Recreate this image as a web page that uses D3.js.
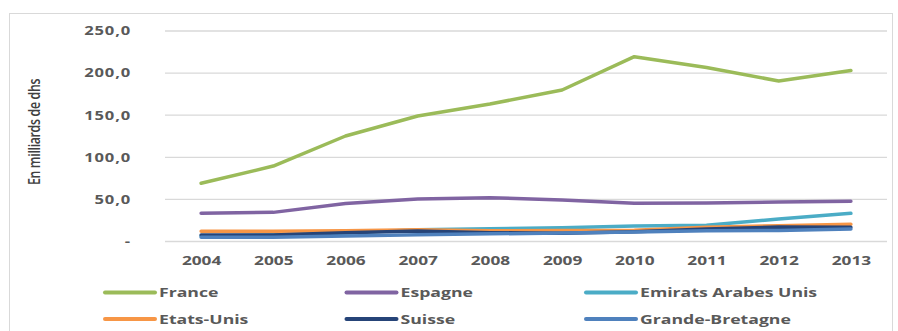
<!DOCTYPE html>
<html>
<head>
<meta charset="utf-8">
<script src="https://cdn.jsdelivr.net/npm/d3@7"></script>
<style>
  html, body { margin: 0; padding: 0; background: #fff; }
  svg { display: block; }
</style>
</head>
<body>
<svg id="chart" width="898" height="331"></svg>
<script>
// Years on the horizontal axis
const years = ["2004", "2005", "2006", "2007", "2008", "2009", "2010", "2011", "2012", "2013"];

// Values in billions of dirhams, one array per country
const france        = [68.5, 89.0, 124.7, 148.5, 162.7, 179.3, 218.9, 206.0, 190.0, 202.5];
const espagne       = [32.9, 34.0, 44.5, 49.9, 51.4, 48.7, 44.8, 45.1, 46.3, 47.1];
const emirats       = [6.0, 7.0, 9.5, 13.4, 14.6, 15.8, 17.8, 18.8, 26.0, 32.9];
const etatsUnis     = [11.5, 11.5, 12.2, 13.4, 12.2, 12.5, 12.8, 16.3, 18.2, 19.8];
const suisse        = [7.1, 7.1, 9.9, 11.9, 9.9, 9.1, 11.0, 14.2, 16.6, 16.3];
const grandeBretagne = [4.4, 4.6, 6.0, 7.5, 8.5, 9.5, 10.7, 12.2, 12.5, 14.3];

// Vertical axis ticks and their labels
const yTicks = [0, 50, 100, 150, 200, 250];
const yTickLabels = ["-", "50,0", "100,0", "150,0", "200,0", "250,0"];

const seriesNames  = ["France", "Espagne", "Emirats Arabes Unis", "Etats-Unis", "Suisse", "Grande-Bretagne"];
const seriesValues = [france, espagne, emirats, etatsUnis, suisse, grandeBretagne];
const seriesColors = ["#9BBB59", "#8064A2", "#4BACC6", "#F79646", "#264478", "#4F81BD"];

const yTitle = "En milliards de dhs";

// ---- layout ----
const plotLeft = 165, plotRight = 887, plotTop = 30.5, plotBottom = 241;
const textColor = "#595959";
const font = "'Open Sans', 'DejaVu Sans', sans-serif";
const sx = 1.38; // wide lettering

const svg = d3.select("#chart");

// outer frame
svg.append("rect")
  .attr("x", 9.5).attr("y", 13.5)
  .attr("width", 883).attr("height", 340)
  .attr("fill", "none").attr("stroke", "#d9d9d9").attr("stroke-width", 1);

const x = d3.scalePoint().domain(years).range([plotLeft, plotRight]).padding(0.5);
const y = d3.scaleLinear().domain([0, 250]).range([plotBottom, plotTop]);

// y axis with gridlines
const yAxis = svg.append("g")
  .attr("transform", `translate(${plotLeft},0)`)
  .call(d3.axisLeft(y)
    .tickValues(yTicks)
    .tickFormat((d, i) => yTickLabels[i])
    .tickSize(-(plotRight - plotLeft))
    .tickPadding(0));
yAxis.select(".domain").remove();
yAxis.selectAll(".tick line")
  .attr("stroke", "#d9d9d9").attr("stroke-width", 1.3);
yAxis.selectAll(".tick text")
  .attr("x", -34 / sx)
  .attr("dy", "0.36em")
  .attr("transform", `scale(${sx},1)`)
  .attr("fill", textColor)
  .style("font-family", font)
  .style("font-weight", 700)
  .style("font-size", "12px")
  .style("letter-spacing", "0.6px");

// x axis
const xAxis = svg.append("g")
  .attr("transform", `translate(0,${plotBottom})`)
  .call(d3.axisBottom(x).tickSize(0).tickPadding(0));
xAxis.select(".domain").remove();
xAxis.selectAll(".tick text")
  .attr("y", 24).attr("dy", 0)
  .attr("transform", `scale(${sx},1)`)
  .attr("fill", textColor)
  .style("font-family", font)
  .style("font-weight", 700)
  .style("font-size", "12.5px");

// y title (narrow, tall lettering)
svg.append("text")
  .attr("transform", `translate(40,132) scale(1.3,1) rotate(-90)`)
  .attr("text-anchor", "middle")
  .attr("fill", "#404040")
  .style("font-family", font)
  .style("font-weight", 600)
  .style("font-size", "12.3px")
  .style("letter-spacing", "-0.3px")
  .text(yTitle);

// lines
const line = d3.line()
  .x((d, i) => x(years[i]))
  .y(d => y(d));

svg.append("g").selectAll("path")
  .data(seriesValues)
  .join("path")
  .attr("d", d => line(d))
  .attr("fill", "none")
  .attr("stroke", (d, i) => seriesColors[i])
  .attr("stroke-width", 3.5)
  .attr("stroke-linecap", "round")
  .attr("stroke-linejoin", "round");

// legend
const legendCols = [105, 346.5, 586];
const legendRows = [292.5, 319];
const legend = svg.append("g");
seriesNames.forEach((name, i) => {
  const cx = legendCols[i % 3], cy = legendRows[Math.floor(i / 3)];
  legend.append("line")
    .attr("x1", cx).attr("x2", cx + 50)
    .attr("y1", cy).attr("y2", cy)
    .attr("stroke", seriesColors[i])
    .attr("stroke-width", 4)
    .attr("stroke-linecap", "round");
  legend.append("text")
    .attr("transform", `translate(${cx + 54},${cy + 4.7}) scale(${sx},1)`)
    .attr("fill", textColor)
    .style("font-family", font)
    .style("font-weight", 700)
    .style("font-size", "12.8px")
    .text(name);
});
</script>
</body>
</html>
